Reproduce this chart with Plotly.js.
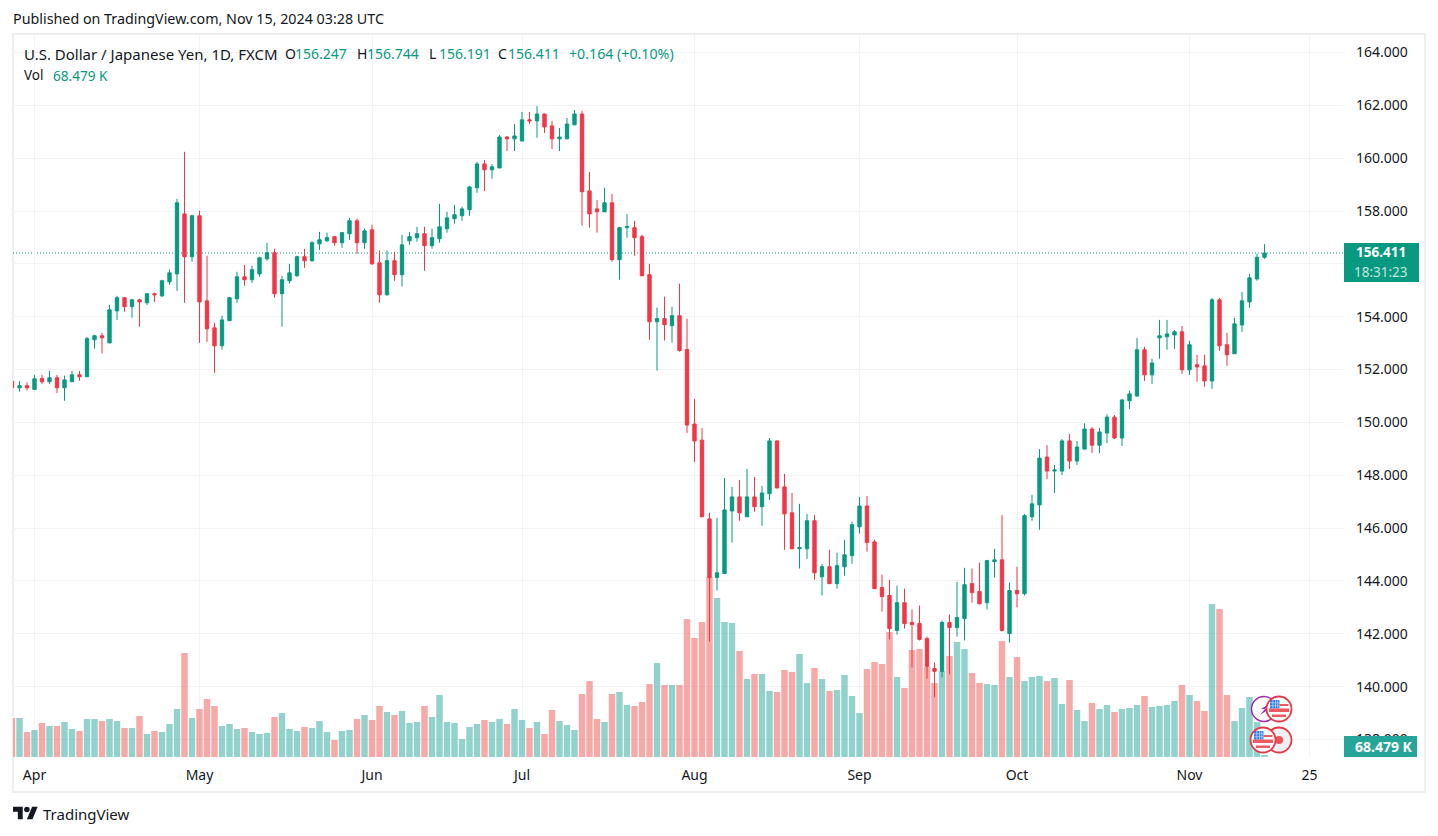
<!DOCTYPE html>
<html>
<head>
<meta charset="utf-8">
<script src="https://cdn.plot.ly/plotly-3.0.0.min.js"></script>
<style>html,body{margin:0;padding:0;background:#fff}#chart{width:1438px;height:836px}</style>
</head>
<body>
<div id="chart"></div>
<script>
const opens=[151.56,151.31,151.39,151.25,151.66,151.54,151.69,151.31,151.54,151.80,151.73,153.13,153.28,153.01,154.22,154.72,154.38,154.64,154.53,154.87,154.79,155.32,155.62,157.89,156.27,157.82,154.60,153.58,152.90,153.85,154.68,155.51,155.40,155.62,156.19,156.42,154.87,155.36,155.55,156.27,156.12,156.76,156.87,157.03,156.80,157.14,157.63,156.80,157.29,156.04,154.83,156.12,155.59,156.87,156.99,157.14,156.69,156.95,157.33,157.71,157.82,158.05,158.88,159.78,159.56,159.63,160.80,160.73,160.65,161.45,161.41,161.67,161.22,160.73,160.73,161.26,161.67,158.76,158.08,157.97,158.31,156.16,157.37,157.37,157.03,155.59,153.81,153.93,153.66,154.04,152.76,149.94,149.33,146.35,144.13,144.28,146.65,147.18,146.43,147.18,146.81,147.30,149.30,147.56,146.58,145.22,145.22,146.28,144.16,144.54,143.90,144.54,144.96,146.05,146.84,145.48,143.75,143.45,142.13,143.18,142.43,142.39,141.82,140.69,140.58,142.43,142.24,142.58,143.90,143.60,143.18,144.73,144.80,142.01,143.64,143.52,146.43,146.88,148.69,148.16,148.16,149.30,148.54,148.99,149.75,149.14,149.60,150.20,149.41,150.82,151.00,152.75,151.80,153.20,153.24,153.31,153.43,151.99,152.18,152.14,151.57,154.64,152.94,152.60,153.69,154.56,155.43,156.247];
const highs=[151.60,151.56,151.51,151.80,151.80,151.95,151.80,151.77,151.95,151.95,153.24,153.32,153.39,154.45,154.79,154.75,154.68,154.68,154.88,154.91,155.40,155.78,158.46,160.24,157.86,158.01,156.31,153.77,154.04,154.75,155.70,155.96,155.93,156.27,156.80,156.57,155.55,156.00,156.31,156.57,156.87,157.21,157.18,157.04,157.21,157.74,157.71,157.33,157.48,156.50,156.50,156.46,157.10,157.21,157.40,157.40,157.33,158.27,157.97,158.23,158.16,158.95,159.86,159.93,159.78,160.88,160.84,161.29,161.75,161.75,161.97,161.68,161.41,161.14,161.52,161.82,161.79,159.48,158.42,158.88,158.65,157.40,157.89,157.63,157.10,156.00,154.34,154.76,154.38,155.25,153.93,150.89,149.79,146.58,146.39,147.90,147.56,147.82,148.24,147.94,147.60,149.41,149.32,148.05,147.33,146.92,146.54,146.50,144.65,145.18,145.07,145.56,146.24,147.18,147.22,145.56,144.24,144.05,143.82,143.71,142.92,143.07,141.90,140.92,142.50,142.73,143.97,144.50,144.47,144.69,144.80,145.22,146.50,143.94,144.54,146.54,147.26,148.99,149.14,148.39,149.37,149.56,149.30,149.97,149.82,149.79,150.31,150.28,150.89,151.20,153.20,152.86,152.41,153.88,153.88,153.50,153.65,153.09,152.56,152.56,154.71,154.71,153.39,153.96,154.94,155.62,156.38,156.744];
const lows=[151.30,151.17,151.21,151.24,151.46,151.46,151.11,150.82,151.53,151.58,151.72,152.79,152.61,153.00,153.88,154.19,153.96,153.62,154.45,154.56,154.75,155.21,154.98,154.53,156.08,153.01,153.05,151.88,152.75,153.84,154.53,155.17,155.28,155.51,156.12,154.72,153.62,155.25,155.51,155.85,156.08,156.53,156.84,156.69,156.61,156.91,156.38,156.57,155.97,154.53,154.80,155.36,155.14,156.72,156.84,155.74,156.57,156.80,157.18,157.52,157.63,157.82,158.69,158.76,159.22,159.62,160.27,160.27,160.64,161.29,160.77,160.95,160.35,160.27,160.72,161.25,157.44,157.37,157.18,157.96,156.08,155.40,156.99,156.31,155.54,153.13,151.96,153.10,153.02,152.68,149.60,148.50,146.42,141.71,143.64,144.27,145.45,146.28,146.42,146.62,146.09,147.07,147.51,145.18,145.21,144.47,144.84,144.05,143.45,143.89,143.71,144.20,144.65,145.79,145.11,143.70,142.84,141.79,141.97,142.20,140.73,141.75,140.31,139.60,140.35,140.47,141.90,141.75,143.18,143.11,142.92,144.13,142.09,141.67,143.00,143.45,146.28,145.94,147.86,147.33,148.01,148.24,148.39,148.98,148.84,148.84,149.22,149.37,149.11,150.51,150.97,151.57,151.46,152.41,152.75,152.78,151.84,151.80,151.54,151.35,151.27,152.71,152.14,152.59,153.43,154.34,155.36,156.191];
const closes=[151.31,151.39,151.31,151.65,151.54,151.69,151.31,151.61,151.80,151.73,153.17,153.28,153.20,154.26,154.72,154.38,154.64,154.56,154.87,154.83,155.36,155.66,158.31,156.27,157.82,154.56,153.54,152.90,153.88,154.72,155.51,155.40,155.78,156.23,156.42,154.87,155.40,155.66,156.27,156.12,156.80,156.91,156.99,156.80,157.18,157.63,156.80,157.25,156.00,154.83,156.12,155.59,156.72,157.03,157.14,156.69,156.99,157.40,157.74,157.86,158.08,158.91,159.78,159.56,159.67,160.80,160.73,160.84,161.45,161.41,161.67,161.18,160.73,160.80,161.29,161.67,158.73,157.89,157.97,158.31,156.16,157.37,157.41,156.99,155.55,153.81,153.93,153.70,154.04,152.72,149.90,149.30,146.43,144.13,144.31,146.69,147.18,146.58,147.18,146.81,147.33,149.30,147.52,146.54,145.22,145.26,146.28,144.31,144.54,143.90,144.58,144.99,146.13,146.84,145.45,143.71,143.41,142.20,143.18,142.39,142.35,141.79,140.77,140.58,142.43,142.24,142.62,143.86,143.56,143.14,144.77,144.80,142.13,143.64,143.52,146.47,146.92,148.65,148.16,148.20,149.30,148.54,149.07,149.75,149.14,149.64,150.20,149.41,150.85,151.08,152.75,151.80,152.25,153.28,153.35,153.43,151.99,152.94,152.10,151.57,154.64,152.90,152.56,153.73,154.60,155.47,156.247,156.411];
const volumes=[1326,1326,850,918,1156,1054,1054,1190,952,884,1292,1292,1224,1292,1224,986,986,1394,782,884,850,1122,1632,3536,1326,1632,1972,1734,1054,1122,952,986,850,782,816,1360,1496,952,884,1020,986,1224,850,578,884,918,1292,1428,1258,1734,1530,1428,1564,1156,1190,1734,1360,2108,1190,1156,612,1020,1122,1258,1190,1292,1122,1632,1258,986,1190,782,1598,1224,1088,918,2142,2584,1292,1190,2142,2210,1768,1734,1870,2482,3196,2448,2448,2448,4692,4046,4590,6120,5406,4590,4556,3604,2652,2822,2822,2244,2210,2958,2890,3502,2516,3026,2652,2244,2278,2788,2074,1496,2992,3230,3162,4250,2720,2346,3638,3672,3060,2516,2924,3434,3910,3672,2856,2516,2482,2448,3944,2720,3400,2584,2720,2754,2584,2686,1802,2618,1598,1224,1836,1632,1768,1530,1632,1666,1768,2074,1700,1734,1768,1904,2448,2108,1904,1564,5202,5032,2108,1224,1666,2040,1190,68.479];
const tickSessions=[3,25,48,68,91,113,134,157,173];
const tickLabels=['Apr','May','Jun','Jul','Aug','Sep','Oct','Nov','25'];
const priceTicks=[138,140,142,144,146,148,150,152,154,156,158,160,162,164];
const priceTickLabels=['138.000','140.000','142.000','144.000','146.000','148.000','150.000','152.000','154.000','','158.000','160.000','162.000','164.000'];

const sessions=opens.map((_,i)=>i);
const last=opens.length-1;
const GREEN='#089981',RED='#F23645',TEXT='#131722';
const FONT='"Noto Sans", sans-serif';
const L=13,R=1344,T=35,B=757;
const px=x=>(x-L)/(R-L), py=y=>(B-y)/(B-T);

function note(text,x,y,color,size,extra){
  return Object.assign({text:text,x:px(x),y:py(y),xref:'paper',yref:'paper',xanchor:'left',yanchor:'middle',
    showarrow:false,borderpad:0,font:{family:FONT,size:size,color:color}},extra||{});
}
const ohlc=[['O',opens[last],284],['H',highs[last],356],['L',lows[last],428],['C',closes[last],497]];
const annotations=[
  note('Published on TradingView.com, Nov 15, 2024 03:28 UTC',12,19,TEXT,14.3),
  note('U.S. Dollar / Japanese Yen, 1D, FXCM',23,54,TEXT,15),
  note('Vol',23,75,TEXT,13.5),
  note(volumes[last].toFixed(3)+' K',52,75,GREEN,13.6),
  note('+'+(closes[last]-opens[last]).toFixed(3)+' (+'+((closes[last]-opens[last])/opens[last]*100).toFixed(2)+'%)',568,54,GREEN,14.2),
  note('<b>'+closes[last].toFixed(3)+'</b>',1381,252.5,'#ffffff',13.5,{xanchor:'center'}),
  note('18:31:23',1381,271.5,'#C3E6DF',13.5,{xanchor:'center'}),
  note('<b>'+volumes[last].toFixed(3)+' K</b>',1383.5,746.5,'#ffffff',14,{xanchor:'center'}),
  note('TradingView',42,814,TEXT,15)
];
ohlc.forEach(o=>{
  annotations.push(note(o[0],o[2],54,TEXT,14));
  annotations.push(note(o[1].toFixed(3),o[2]+10,54,GREEN,14));
});

const shapes=[
  {type:'rect',xref:'paper',yref:'paper',layer:'below',x0:px(13),x1:px(1425),y0:py(792),y1:py(34),line:{color:'#EDEEF2',width:2},fillcolor:'rgba(0,0,0,0)'},
  {type:'line',xref:'paper',yref:'y2',layer:'below',x0:0,x1:1,y0:closes[last],y1:closes[last],line:{color:GREEN,width:1,dash:'1px,2px'}},
  {type:'rect',xref:'paper',yref:'paper',x0:1,x1:px(1419),y0:py(282),y1:py(243),line:{width:0},fillcolor:GREEN},
  {type:'rect',xref:'paper',yref:'paper',x0:1,x1:px(1417),y0:0,y1:py(736),line:{width:0},fillcolor:'#26A69A'}
];

function flag(id,cx,cy){
  const r=12.5;
  let canton='';
  [2.5,5.5].forEach(d=>{canton+='<rect x="'+(cx-9)+'" y="'+(cy-9+d)+'" width="9.5" height="0.7" fill="#BBD7FA"/>';});
  [2.5,5,7.5].forEach(d=>{canton+='<rect x="'+(cx-9+d)+'" y="'+(cy-9)+'" width="0.7" height="8.5" fill="#BBD7FA"/>';});
  return '<clipPath id="'+id+'"><circle cx="'+cx+'" cy="'+cy+'" r="'+r+'"/></clipPath>'+
    '<circle cx="'+cx+'" cy="'+cy+'" r="'+r+'" fill="#fff"/>'+
    '<g clip-path="url(#'+id+')">'+
    '<rect x="'+(cx-9)+'" y="'+(cy-9)+'" width="9.5" height="8.5" fill="#2F80ED"/>'+canton+
    '<rect x="'+(cx+0.5)+'" y="'+(cy-5)+'" width="9" height="2" fill="#F0595F"/>'+
    '<rect x="'+(cx-10)+'" y="'+(cy-0.5)+'" width="20" height="3.5" fill="#F0595F"/>'+
    '<rect x="'+(cx-7)+'" y="'+(cy+5.5)+'" width="14" height="2.5" fill="#F0595F"/>'+
    '</g><circle cx="'+cx+'" cy="'+cy+'" r="'+r+'" fill="none" stroke="#E5394A" stroke-width="1.8"/>';
}
const iconSvg='<svg xmlns="http://www.w3.org/2000/svg" width="48" height="64" viewBox="1248 694 48 64">'+
  '<circle cx="1264" cy="709" r="12.5" fill="#fff" stroke="#9C27B0" stroke-width="1.5"/>'+
  '<path d="M1269 704l-8 5h4l-5 6 9-6h-4z" fill="#9C27B0"/>'+
  flag('a',1279,709)+
  '<circle cx="1279" cy="740" r="12.5" fill="#EEF0F3" stroke="#E5394A" stroke-width="1.8"/>'+
  '<circle cx="1279" cy="740" r="4" fill="#F0505A"/>'+
  flag('b',1263,740)+'</svg>';
const logoSvg='<svg xmlns="http://www.w3.org/2000/svg" width="36" height="28" viewBox="0 0 36 28"><path fill="#131722" d="M14 22H7V11H0V4h14v18zM28 22h-8l7.5-18h8L28 22z"/><circle fill="#131722" cx="20" cy="8" r="4"/></svg>';
const dataUri=s=>'data:image/svg+xml;charset=utf-8,'+encodeURIComponent(s);
const images=[
  {source:dataUri(iconSvg),xref:'paper',yref:'paper',x:px(1248),y:py(694),sizex:48/(R-L),sizey:64/(B-T),xanchor:'left',yanchor:'top',sizing:'stretch',layer:'above'},
  {source:dataUri(logoSvg),xref:'paper',yref:'paper',x:px(13),y:py(804),sizex:25/(R-L),sizey:19.5/(B-T),xanchor:'left',yanchor:'top',sizing:'stretch',layer:'above'}
];

const traces=[
  {type:'bar',x:sessions,y:volumes,xaxis:'x',yaxis:'y',hoverinfo:'skip',
   marker:{color:closes.map((c,i)=>c>=opens[i]?'rgba(38,166,154,0.5)':'rgba(239,83,80,0.5)'),line:{width:0}}},
  {type:'candlestick',x:sessions,open:opens,high:highs,low:lows,close:closes,xaxis:'x',yaxis:'y2',whiskerwidth:0,
   increasing:{line:{color:GREEN,width:1},fillcolor:GREEN},
   decreasing:{line:{color:RED,width:1},fillcolor:RED}}
];
const layout={
  width:1438,height:836,showlegend:false,paper_bgcolor:'#fff',plot_bgcolor:'rgba(0,0,0,0)',
  margin:{l:L,r:1438-R,t:T,b:836-B,pad:0},bargap:0.14,boxgap:0.36,
  font:{family:FONT,color:TEXT,size:14},
  xaxis:{range:[(L-12)/7.5,(R-12)/7.5],tickmode:'array',tickvals:tickSessions,ticktext:tickLabels,
    showgrid:true,gridcolor:'#F2F3F6',gridwidth:1,zeroline:false,showline:false,ticks:'',ticklabelstandoff:8,
    rangeslider:{visible:false},fixedrange:true,tickfont:{family:FONT,size:14,color:TEXT}},
  yaxis:{range:[0,24548],visible:false,fixedrange:true},
  yaxis2:{overlaying:'y',side:'right',anchor:'x',range:[137.34,164.66],tickmode:'array',tickvals:priceTicks,
    ticktext:priceTickLabels,showgrid:true,gridcolor:'#F2F3F6',gridwidth:1,zeroline:false,showline:false,ticks:'',
    ticklabelstandoff:11,fixedrange:true,tickfont:{family:FONT,size:14,color:TEXT}},
  shapes:shapes,annotations:annotations,images:images
};
Plotly.newPlot('chart',traces,layout,{displayModeBar:false,responsive:false});
</script>
</body>
</html>
